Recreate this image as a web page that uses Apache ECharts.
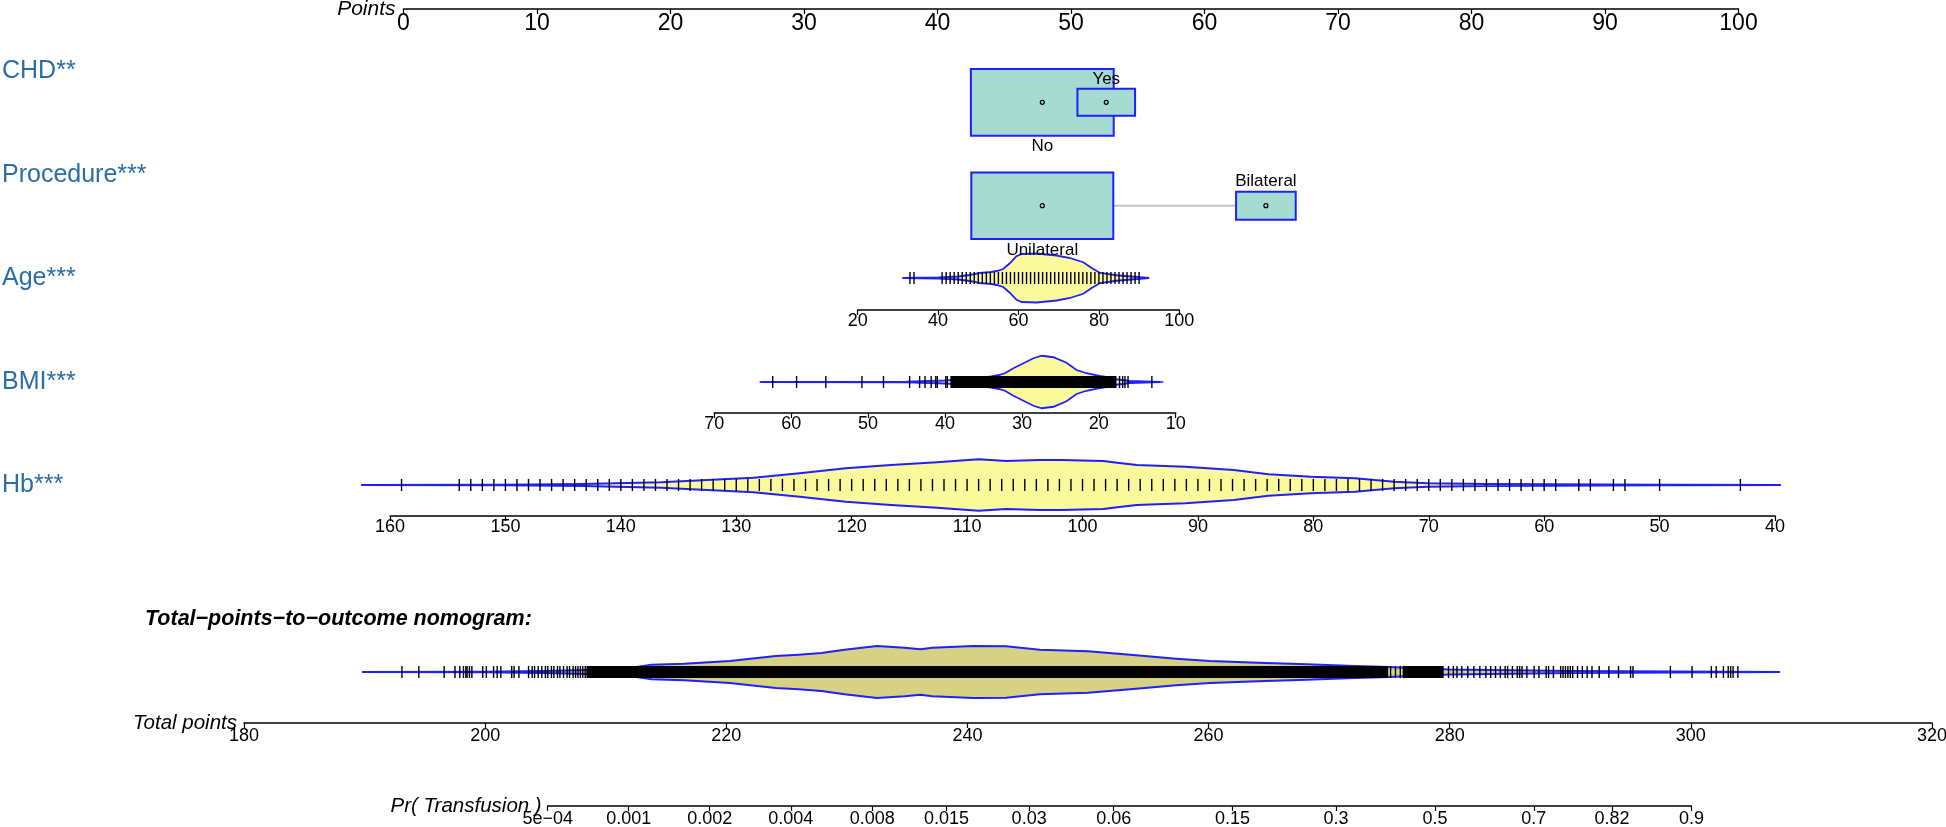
<!DOCTYPE html>
<html><head><meta charset="utf-8">
<script src="https://cdn.jsdelivr.net/npm/echarts@6/dist/echarts.min.js"></script>
<style>html,body{margin:0;padding:0;background:#fff}#c{width:1946px;height:827px}</style>
</head><body><div id="c"></div>
<script>
// ================= DATA =================
const varLabels = ['CHD**', 'Procedure***', 'Age***', 'BMI***', 'Hb***'];

const chdLevels = ['No', 'Yes'];
const chdPoints = [47.85, 52.64];
const chdFreq = [0.86, 0.14];

const procLevels = ['Unilateral', 'Bilateral'];
const procPoints = [47.85, 64.6];
const procFreq = [0.85, 0.15];

const ageRange = [31.2, 92.3];
const ageRug = [33,34,41,42,43,44,45,46,47,48,49,50,51,52,53,54,55,56,57,58,59,60,61,62,63,64,65,66,67,68,69,70,71,72,73,74,75,76,77,78,79,80,81,82,83,84,85,86,87,88,89,90];
const ageDensX = [31.1, 40, 45, 47.9, 50.4, 53.2, 54.6, 56.2, 57.9, 59.5, 60.8, 64.5, 69.5, 72.8, 76.1, 78.2, 80.3, 84.4, 88, 92.3];
const ageDens  = [0, 0.02, 0.06, 0.12, 0.2, 0.24, 0.28, 0.36, 0.6, 0.87, 0.96, 0.98, 0.9, 0.8, 0.63, 0.4, 0.2, 0.11, 0.06, 0.01];

const bmiRange = [64.1, 11.6];
const bmiRug = [62.4, 59.3, 55.5, 50.8, 48.0, 44.6, 43.3, 42.6, 41.8, 41.2, 41.0, 39.9, 39.7, 17.3, 16.9, 16.6, 16.2, 13.1];
const bmiRugDense = [[17.7, 39.3]];
const bmiDensX = [64, 45, 40, 36, 34, 33, 32.2, 31.1, 29.8, 28.5, 27.4, 25.9, 24.2, 22.9, 21.6, 19.9, 19.4, 18, 16, 12];
const bmiDens  = [0, 0.01, 0.06, 0.14, 0.22, 0.28, 0.35, 0.55, 0.75, 0.95, 1.05, 0.99, 0.77, 0.48, 0.35, 0.24, 0.22, 0.12, 0.04, 0];

const hbRange = [162.5, 39.5];
const hbRug = [159,154,153,152,151,150,149,148,147,146,145,144,143,142,141,140,139,138,137,136,135,134,133,132,131,130,129,128,127,126,125,124,123,122,121,120,119,118,117,116,115,114,113,112,111,110,109,108,107,106,105,104,103,102,101,100,99,98,97,96,95,94,93,92,91,90,89,88,87,86,85,84,83,82,81,80,79,78,77,76,75,74,73,72,71,70,69,68,67,66,65,64,63,62,61,60,59,57,56,54,53,50,43];
const hbDensX = [162.5, 150, 143.3, 136.5, 132.5, 128.5, 124.5, 120.5, 116.6, 112.6, 109, 106.6, 103.7, 101.9, 98.2, 97, 95.3, 91.1, 86.9, 83.9, 80.2, 76.4, 73, 70.1, 65, 59.2, 50, 39.5];
const hbDens  = [0, 0.01, 0.04, 0.11, 0.2, 0.29, 0.47, 0.67, 0.8, 0.91, 1.03, 0.96, 1.0, 1.0, 0.96, 0.89, 0.8, 0.73, 0.6, 0.43, 0.33, 0.27, 0.13, 0.07, 0.04, 0.03, 0.01, 0];

const totRange = [189.8, 307.4];
const totRug = [193.1,194.5,196.6,197.5,197.9,198.2,198.4,198.5,198.7,198.9,199.8,200.1,200.7,201.0,201.3,202.2,202.4,202.8,203.6,203.9,204.1,204.4,204.7,205.0,205.2,205.5,205.7,206.0,206.2,206.5,206.8,207.0,207.3,207.5,207.7,207.9,208.1,208.3,
  275.1,275.5,275.9,279.9,280.3,280.6,281.0,281.5,282.0,282.5,283.0,283.4,283.8,284.2,284.6,284.8,285.2,285.6,285.8,286.0,286.4,287.0,287.4,288.0,288.2,288.6,289.2,289.4,289.6,289.8,290.0,290.2,290.6,291.0,291.4,291.8,292.4,293.2,294.0,295.0,295.2,298.3,300.1,301.7,302.1,302.7,303.1,303.3,303.5,303.9];
const totRugDense = [[208.4, 274.9], [276.1, 279.5]];
const totDensX = [189.8, 200, 205, 208.5, 211.6, 213.8, 216.5, 220.3, 224.1, 226, 227.9, 229.8, 232.5, 234.8, 236.1, 237.1, 240.5, 243.2, 246, 250, 254, 257.3, 260.1, 264.1, 268.1, 272.1, 274.9, 280, 290, 307.4];
const totDens  = [0, 0.01, 0.04, 0.08, 0.13, 0.29, 0.33, 0.44, 0.64, 0.69, 0.76, 0.89, 1.04, 0.97, 0.91, 0.97, 1.04, 1.03, 0.89, 0.83, 0.67, 0.53, 0.44, 0.37, 0.31, 0.24, 0.2, 0.1, 0.04, 0];

const prTicks  = [0.0005, 0.001, 0.002, 0.004, 0.008, 0.015, 0.03, 0.06, 0.15, 0.3, 0.5, 0.7, 0.82, 0.9];
const prLabels = ['5e\u221204', '0.001', '0.002', '0.004', '0.008', '0.015', '0.03', '0.06', '0.15', '0.3', '0.5', '0.7', '0.82', '0.9'];

// ================= STYLE / LAYOUT =================
const FONT = 'Liberation Sans, Arial, Helvetica, sans-serif';
const LBL_BLUE = '#2b6ea6';
const OUT_BLUE = '#1f1fff';
const BOX_FILL = '#a6dbd1';
const YEL = '#fafa9c';
const KHAKI = '#d6d283';
const VH = 25;      // px per unit of relative density (half height)
const TICK = 6;     // half length of rug ticks
const LINE_Y = 30;  // data line offset inside row grids
const BOX_W = 154, BOX_H = 72;

const logit = p => Math.log(p / (1 - p));
const prLogits = prTicks.map(logit);

const gridDefs = [
  {left: 403.5, width: 1335,   top: 0,   height: 9},   // 0 Points
  {left: 857.7, width: 321.6,  top: 248, height: 62},  // 1 Age
  {left: 714.3, width: 461.4,  top: 352, height: 61},  // 2 BMI
  {left: 390,   width: 1385,   top: 455, height: 61},  // 3 Hb
  {left: 244,   width: 1688,   top: 642, height: 81},  // 4 Total
  {left: 547.7, width: 1143.7, top: 800, height: 6}    // 5 Pr
];

function axisBase(i, o) {
  return Object.assign({
    gridIndex: i, type: 'value', position: 'bottom',
    axisLine: {show: true, onZero: false, lineStyle: {color: '#000', width: 1.5}},
    axisTick: {show: true, length: 5, lineStyle: {color: '#000', width: 1.2}},
    axisLabel: {color: '#000', fontFamily: FONT, fontSize: 18, margin: 2, showMinLabel: true, showMaxLabel: true, hideOverlap: false},
    splitLine: {show: false},
    nameMoveOverlap: false,
    nameTextStyle: {color: '#000', fontFamily: FONT, fontSize: 20.5, fontStyle: 'italic'}
  }, o);
}

const xAxes = [
  axisBase(0, {min: 0, max: 100, interval: 10, name: 'Points', nameLocation: 'start', nameGap: 8,
    nameTextStyle: {color: '#000', fontFamily: FONT, fontSize: 21, fontStyle: 'italic'},
    axisLabel: {color: '#000', fontFamily: FONT, fontSize: 23, margin: 3, showMinLabel: true, showMaxLabel: true}}),
  axisBase(1, {min: 20, max: 100, interval: 20}),
  axisBase(2, {min: 10, max: 70, interval: 10, inverse: true}),
  axisBase(3, {min: 40, max: 160, interval: 10, inverse: true}),
  axisBase(4, {min: 180, max: 320, interval: 20, name: 'Total points', nameLocation: 'start', nameGap: 7,
    axisLabel: {color: '#000', fontFamily: FONT, fontSize: 18, margin: 4, showMinLabel: true, showMaxLabel: true}}),
  axisBase(5, {min: logit(0.0005), max: logit(0.9), name: 'Pr( Transfusion )', nameLocation: 'start', nameGap: 6,
    axisTick: {show: true, length: 5, customValues: prLogits, lineStyle: {color: '#000', width: 1.2}},
    axisLabel: {color: '#000', fontFamily: FONT, fontSize: 18, margin: 4, customValues: prLogits,
      formatter: v => { let b = 0; prLogits.forEach((l, k) => { if (Math.abs(l - v) < Math.abs(prLogits[b] - v)) b = k; }); return prLabels[b]; }}})
];

const yAxes = gridDefs.map((g, i) => ({gridIndex: i, type: 'value', min: 0, max: g.height, inverse: true, show: false}));

function lineSeries(gi, range) {
  return {type: 'custom', xAxisIndex: gi, yAxisIndex: gi, clip: false, silent: true, z: 2,
    data: [[range[0], range[1]]],
    renderItem: (p, api) => {
      const a = api.coord([api.value(0), LINE_Y]), b = api.coord([api.value(1), LINE_Y]);
      return {type: 'line', shape: {x1: a[0], y1: a[1], x2: b[0], y2: b[1]}, style: {stroke: OUT_BLUE, lineWidth: 1.6}};
    }};
}
function violinSeries(gi, xs, ds, fill) {
  return {type: 'custom', xAxisIndex: gi, yAxisIndex: gi, clip: false, silent: true, z: 3,
    data: xs.map((x, i) => [x, ds[i]]),
    renderItem: (p, api) => {
      if (p.dataIndex !== 0) return null;
      const top = [], bot = [];
      for (let i = 0; i < xs.length; i++) {
        const c = api.coord([xs[i], LINE_Y]);
        const h = ds[i] * VH;
        top.push([c[0], c[1] - h]); bot.push([c[0], c[1] + h]);
      }
      return {type: 'polygon', shape: {points: top.concat(bot.reverse())},
        style: {fill: fill, stroke: OUT_BLUE, lineWidth: 1.8}};
    }};
}
function rugSeries(gi, vals) {
  return {type: 'custom', xAxisIndex: gi, yAxisIndex: gi, clip: false, silent: true, z: 4,
    data: vals.map(v => [v, 0]),
    renderItem: (p, api) => {
      const c = api.coord([api.value(0), LINE_Y]);
      return {type: 'line', shape: {x1: c[0], y1: c[1] - TICK, x2: c[0], y2: c[1] + TICK}, style: {stroke: '#000', lineWidth: 1.4}};
    }};
}
function denseSeries(gi, spans) {
  return {type: 'custom', xAxisIndex: gi, yAxisIndex: gi, clip: false, silent: true, z: 4,
    data: spans,
    renderItem: (p, api) => {
      const a = api.coord([api.value(0), LINE_Y]), b = api.coord([api.value(1), LINE_Y]);
      const x0 = Math.min(a[0], b[0]), x1 = Math.max(a[0], b[0]);
      return {type: 'rect', shape: {x: x0, y: a[1] - TICK, width: x1 - x0, height: 2 * TICK}, style: {fill: '#000'}};
    }};
}
function connectorSeries(pts, rowY) {
  return {type: 'custom', xAxisIndex: 0, yAxisIndex: 0, clip: false, silent: true, z: 4,
    data: [[Math.min.apply(null, pts), Math.max.apply(null, pts)]],
    renderItem: (p, api) => {
      const a = api.coord([api.value(0), rowY]), b = api.coord([api.value(1), rowY]);
      return {type: 'line', shape: {x1: a[0], y1: a[1], x2: b[0], y2: b[1]}, style: {stroke: '#c4c4c4', lineWidth: 2}};
    }};
}
function boxSeries(levels, pts, freq, rowY) {
  return {type: 'custom', xAxisIndex: 0, yAxisIndex: 0, clip: false, silent: true, z: 5,
    data: pts.map((v, i) => [v, freq[i], i]),
    renderItem: (p, api) => {
      const i = api.value(2);
      const c = api.coord([api.value(0), rowY]);
      const s = Math.sqrt(api.value(1));
      const w = BOX_W * s, h = BOX_H * s;
      const ly = i === 0 ? c[1] + h / 2 + 11 : c[1] - h / 2 - 10;
      return {type: 'group', children: [
        {type: 'rect', shape: {x: c[0] - w / 2, y: c[1] - h / 2, width: w, height: h},
          style: {fill: BOX_FILL, stroke: OUT_BLUE, lineWidth: 2, opacity: 1}},
        {type: 'circle', shape: {cx: c[0], cy: c[1], r: 2}, style: {fill: 'none', stroke: '#000', lineWidth: 1.2}},
        {type: 'text', style: {text: levels[i], x: c[0], y: ly, align: 'center', verticalAlign: 'middle',
          fontFamily: FONT, fontSize: 17, fill: '#000'}}
      ]};
    }};
}

const labelY = [70.7, 175, 278.3, 381.7, 485];
const graphics = varLabels.map((t, i) => ({type: 'text', x: 2, y: labelY[i], silent: true,
  style: {text: t, fill: LBL_BLUE, fontFamily: FONT, fontSize: 25, verticalAlign: 'middle', align: 'left'}}));
graphics.push({type: 'text', x: 145, y: 619, silent: true,
  style: {text: 'Total\u2212points\u2212to\u2212outcome nomogram:', fill: '#000', fontFamily: FONT, fontSize: 21.5,
    fontWeight: 'bold', fontStyle: 'italic', verticalAlign: 'middle', align: 'left'}});

const option = {
  animation: false,
  backgroundColor: '#fff',
  grid: gridDefs.map(g => Object.assign({containLabel: false, outerBoundsMode: 'none', show: false}, g)),
  xAxis: xAxes,
  yAxis: yAxes,
  graphic: graphics,
  series: [
    connectorSeries(chdPoints, 102.3),
    boxSeries(chdLevels, chdPoints, chdFreq, 102.3),
    connectorSeries(procPoints, 205.7),
    boxSeries(procLevels, procPoints, procFreq, 205.7),
    lineSeries(1, ageRange), violinSeries(1, ageDensX, ageDens, YEL), rugSeries(1, ageRug),
    lineSeries(2, bmiRange), violinSeries(2, bmiDensX, bmiDens, YEL), rugSeries(2, bmiRug), denseSeries(2, bmiRugDense),
    lineSeries(3, hbRange), violinSeries(3, hbDensX, hbDens, YEL), rugSeries(3, hbRug),
    lineSeries(4, totRange), violinSeries(4, totDensX, totDens, KHAKI), rugSeries(4, totRug), denseSeries(4, totRugDense)
  ]
};
const chart = echarts.init(document.getElementById('c'), null, {renderer: 'canvas'});
chart.setOption(option);
</script>
</body></html>
